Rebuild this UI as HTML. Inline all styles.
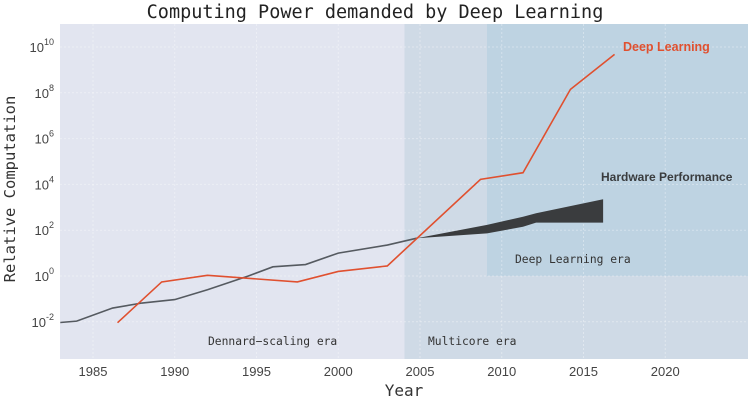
<!DOCTYPE html>
<html><head><meta charset="utf-8"><style>
body{margin:0;background:#fff}
svg{display:block}
.tk{font-family:"Liberation Sans",sans-serif;font-size:13px;fill:#444}
.mono{font-family:"DejaVu Sans Mono","Liberation Mono",monospace}
</style></head><body>
<svg id="c" width="751" height="401" xmlns="http://www.w3.org/2000/svg"></svg>
<script>
const xTicks=[1985,1990,1995,2000,2005,2010,2015,2020];
const yTicks=[-2,0,2,4,6,8,10];
const grayYears=[1983,1984,1986.2,1988,1990,1992,1994.5,1996,1998,2000,2003,2004.8];
const grayExp=[-2.03,-1.97,-1.4,-1.18,-1.03,-0.6,0,0.4,0.5,1.0,1.35,1.65];
const hwYears=[2004.8,2009.1,2011.3,2012.1,2016.2];
const hwUpper=[1.65,2.23,2.59,2.74,3.35];
const hwLower=[1.65,1.86,2.15,2.33,2.33];
const dlYears=[1986.5,1989.2,1992,1997.5,2000,2003,2008.7,2011.3,2014.2,2016.9];
const dlExp=[-2.04,-0.26,0.03,-0.26,0.2,0.44,4.22,4.51,8.15,9.68];
const NS="http://www.w3.org/2000/svg";
const svg=document.getElementById('c');
const X=y=>93+16.35*(y-1985);
const Y=e=>276-22.9*e;
function el(t,a,p){const e=document.createElementNS(NS,t);for(const k in a)e.setAttribute(k,a[k]);(p||svg).appendChild(e);return e;}
const L=60,R=748,T=24,B=359;
let r=el('rect',{x:L,y:T,width:R-L,height:B-T,fill:'#e2e5f0'});


r=el('rect',{x:X(2004.05),y:T,width:R-X(2004.05),height:B-T,fill:'#cfdae6'});


r=el('rect',{x:X(2009.1),y:T,width:R-X(2009.1),height:Y(0)-T,fill:'#bed3e2'});


xTicks.forEach(v=>{
 let g=el('line',{x1:X(v),x2:X(v),y1:T,y2:B,stroke:'#fff','stroke-opacity':0.35,'stroke-dasharray':'2,2'});
 
 
 let t=el('text',{x:X(v),y:B+17,'text-anchor':'middle',class:'tk'});t.textContent=v;
 
 
});
yTicks.forEach(v=>{
 let g=el('line',{x1:L,x2:R,y1:Y(v),y2:Y(v),stroke:'#fff','stroke-opacity':0.35,'stroke-dasharray':'2,2'});
 
 
 let t=el('text',{x:54,y:Y(v)+5,'text-anchor':'end',class:'tk'});
 t.innerHTML='10<tspan dy="-7" font-size="9">'+v+'</tspan>';
 
 
});
let pts='';hwYears.forEach((y,i)=>pts+=X(y)+','+Y(hwUpper[i])+' ');
for(let i=hwYears.length-1;i>=0;i--)pts+=X(hwYears[i])+','+Y(hwLower[i])+' ';
let hw=el('polygon',{points:pts,fill:'#3a3c3e'});


let gl=el('polyline',{points:grayYears.map((y,i)=>X(y)+','+Y(grayExp[i])).join(' '),fill:'none',stroke:'#555a60','stroke-width':1.6});


let dl=el('polyline',{points:dlYears.map((y,i)=>X(y)+','+Y(dlExp[i])).join(' '),fill:'none',stroke:'#e0502f','stroke-width':1.6});


function txt(x,y,s,attrs,name){let t=el('text',Object.assign({x:x,y:y},attrs));t.textContent=s;
 
 return t;}
txt(375,18,'Computing Power demanded by Deep Learning',{'text-anchor':'middle',class:'mono','font-size':18.5,fill:'#222'},'chart-title');
txt(404,396,'Year',{'text-anchor':'middle',class:'mono','font-size':16,fill:'#333'},'x-axis-title');
txt(0,0,'Relative Computation',{'text-anchor':'middle',class:'mono','font-size':15.5,fill:'#333',transform:'translate(15,189) rotate(-90)'},'y-axis-title');
txt(623,51,'Deep Learning',{'font-family':'Liberation Sans,sans-serif','font-weight':'bold','font-size':12.5,fill:'#e0502f'},'deep-learning-label');
txt(601,181,'Hardware Performance',{'font-family':'Liberation Sans,sans-serif','font-weight':'bold','font-size':12,fill:'#3a3c3e'},'hardware-performance-label');
txt(515,263,'Deep Learning era',{class:'mono','font-size':11.3,fill:'#333'},'deep-learning-era-label');
txt(428,345,'Multicore era',{class:'mono','font-size':11.3,fill:'#333'},'multicore-era-label');
txt(208,345,'Dennard−scaling era',{class:'mono','font-size':11.3,fill:'#333'},'dennard-era-label');
</script>
</body></html>
